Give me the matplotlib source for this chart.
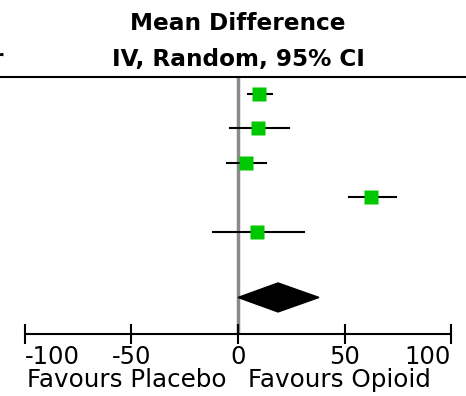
import matplotlib.pyplot as plt
from matplotlib.patches import Polygon

# study estimates (mean difference, 95% CI)
md = [9.9, 9.4, 3.8, 62.4, 8.9]
ci_low = [4.7, -3.8, -5.2, 52.1, -11.7]
ci_high = [16.0, 23.9, 13.1, 74.2, 31.0]

# pooled estimate (random effects)
pooled_md = 18.8
pooled_low = 0.0
pooled_high = 38.0

ticks = [-100, -50, 0, 50, 100]
tick_labels = ['-100', '-50', '0', '50', '100']

fig = plt.figure(figsize=(4.66, 3.96), dpi=100)
ax = fig.add_axes([0, 62 / 396, 1, 257 / 396])

rows = list(range(len(md)))
pooled_row = 5.9

ax.axvline(0, color='#8a8a8a', lw=2.5, zorder=1)
for r, m, lo, hi in zip(rows, md, ci_low, ci_high):
    ax.plot([lo, hi], [r, r], color='black', lw=1.5, zorder=2)
    ax.plot(m, r, marker='s', ms=9.5, color='#00c800', mec='none', zorder=3)

h = 0.42
diamond = Polygon([[pooled_low, pooled_row], [pooled_md, pooled_row - h],
                   [pooled_high, pooled_row], [pooled_md, pooled_row + h]],
                  closed=True, color='black', zorder=4)
ax.add_patch(diamond)

ax.set_xlim(-111.7, 107.0)
ax.set_ylim(-0.49 + 257 / 34.5, -0.49)

for s in ['left', 'right']:
    ax.spines[s].set_visible(False)
ax.spines['top'].set_linewidth(1.5)
ax.spines['bottom'].set_linewidth(1.5)
ax.spines['bottom'].set_bounds(-100, 100)
ax.set_yticks([])
ax.set_xticks(ticks)
ax.set_xticklabels(tick_labels)
ax.tick_params(axis='x', direction='inout', length=14, width=1.5,
               labelsize=17.5, pad=1)
labels = ax.get_xticklabels()
labels[0].set_ha('left')
labels[-1].set_ha('right')

ax.text(-5.2, -0.18, 'Favours Placebo', transform=ax.get_xaxis_transform(),
        ha='right', va='center', fontsize=17.7)
ax.text(4.7, -0.18, 'Favours Opioid', transform=ax.get_xaxis_transform(),
        ha='left', va='center', fontsize=17.7)

ax.text(0, 1.21, 'Mean Difference', transform=ax.get_xaxis_transform(),
        ha='center', va='center', fontsize=16.7, fontweight='bold')
ax.text(0, 1.07, 'IV, Random, 95% CI', transform=ax.get_xaxis_transform(),
        ha='center', va='center', fontsize=16.7, fontweight='bold')
ax.text(-109.8, 1.07, 'Year', transform=ax.get_xaxis_transform(),
        ha='right', va='center', fontsize=16.5, fontweight='bold')

fig.savefig('out.png', dpi=100)
